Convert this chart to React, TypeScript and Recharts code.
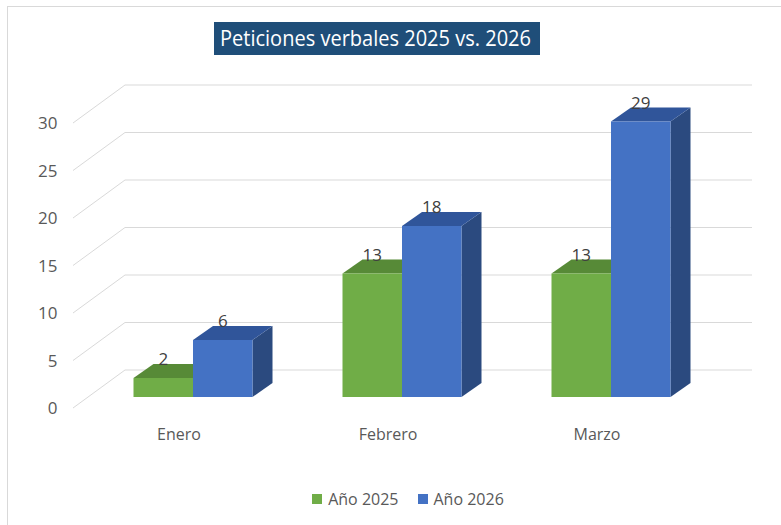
import { BarChart, Bar, XAxis, YAxis, CartesianGrid, Legend, LabelList } from "recharts";

const months = ["Enero", "Febrero", "Marzo"];
const year2025 = [2, 13, 13];
const year2026 = [6, 18, 29];
const yTicks = [0, 5, 10, 15, 20, 25, 30];

const data = months.map((m, i) => ({ month: m, y2025: year2025[i], y2026: year2026[i] }));

const FONT = "'Open Sans', 'Liberation Sans', sans-serif";
const GRID = "#d9d9d9";
const DEPTH_X = 20;
const DEPTH_Y = 14;

// 3d box: front face, top and right side
const box3d = (top: string, side: string) => (props: any) => {
	const { x, y, width, height, fill } = props;
	if (!width || height == null) return <g />;
	const r = x + width;
	const b = y + height;
	return (
		<g>
			<polygon points={`${r},${y} ${r + DEPTH_X},${y - DEPTH_Y} ${r + DEPTH_X},${b - DEPTH_Y} ${r},${b}`} fill={side} />
			<polygon points={`${x},${y} ${x + DEPTH_X},${y - DEPTH_Y} ${r + DEPTH_X},${y - DEPTH_Y} ${r},${y}`} fill={top} />
			<rect x={x} y={y} width={width} height={height} fill={fill} />
		</g>
	);
};

// back wall line + floor diagonal
const gridLine = (p: any) => {
	const { x1, y1, x2, index } = p;
	return (
		<polyline
			key={`grid-${index}`}
			points={`${x1 - 15.5},${y1 + 11} ${x1 + 36.5},${y1 - 27} ${x2 + 36.5},${y1 - 27}`}
			fill="none"
			stroke={GRID}
			strokeWidth={1}
		/>
	);
};

const YTick = ({ x, y, payload }: any) => (
	<text x={x - 31} y={y + 11} dy={6} textAnchor="end" fill="#595959" fontSize={17} fontFamily={FONT}>
		{payload.value}
	</text>
);

const XTick = ({ x, y, payload }: any) => (
	<text x={x - 14} y={y + 43} textAnchor="middle" fill="#595959" fontSize={16} fontFamily={FONT}>
		{payload.value}
	</text>
);

const ValueLabel = ({ x, y, width, value }: any) => (
	<text x={x + width / 2} y={y - 13} textAnchor="middle" fill="#404040" fontSize={17} fontFamily={FONT}>
		{value}
	</text>
);

const renderLegend = ({ payload }: any) => (
	<div
		style={{
			display: "flex",
			justifyContent: "center",
			columnGap: 19,
			paddingLeft: 35,
			fontFamily: FONT,
			fontSize: 16,
			color: "#595959",
			lineHeight: "22px",
		}}
	>
		{(payload || []).map((e: any) => (
			<span key={e.value} style={{ display: "flex", alignItems: "center" }}>
				<span style={{ width: 10, height: 10, background: e.color, marginRight: 6 }} />
				{e.value}
			</span>
		))}
	</div>
);

const App = () => {
	return (
		<div style={{ position: "absolute", left: 0, top: 0, width: 781, height: 525, background: "#fff", overflow: "hidden" }}>
			<div
				style={{
					position: "absolute",
					left: 7,
					top: 6,
					right: -2,
					bottom: -2,
					borderLeft: `1px solid ${GRID}`,
					borderTop: `1px solid ${GRID}`,
				}}
			/>
			<svg width={781} height={70} style={{ position: "absolute", left: 0, top: 0, zIndex: 2 }}>
				<rect x={214} y={22} width={326} height={33} fill="#1f4e79" />
				<text
					x={220}
					y={46}
					fill="#ffffff"
					fontSize={21}
					fontFamily={FONT}
					textLength={311}
					lengthAdjust="spacingAndGlyphs"
				>
					Peticiones verbales 2025 vs. 2026
				</text>
			</svg>
			<div style={{ position: "absolute", left: 0, top: 0 }}>
				<BarChart
					width={781}
					height={525}
					data={data}
					margin={{ top: 112, right: 65.5, bottom: 98, left: 28.5 }}
					barGap={0}
					barSize={59.5}
				>
					<CartesianGrid vertical={false} horizontal={gridLine} />
					<XAxis dataKey="month" axisLine={false} tickLine={false} tickSize={0} tickMargin={0} height={30} tick={<XTick />} />
					<YAxis
						domain={[0, 30]}
						ticks={yTicks}
						axisLine={false}
						tickLine={false}
						tickSize={0}
						tickMargin={0}
						width={60}
						tick={<YTick />}
					/>
					<Legend
						layout="horizontal"
						verticalAlign="middle"
						align="center"
						content={renderLegend}
						wrapperStyle={{ top: 488, left: 0, width: 781 }}
					/>
					<Bar dataKey="y2025" name="Año 2025" fill="#70ad47" shape={box3d("#578a37", "#4f7d31")} isAnimationActive={false}>
						<LabelList dataKey="y2025" content={<ValueLabel />} />
					</Bar>
					<Bar dataKey="y2026" name="Año 2026" fill="#4472c4" shape={box3d("#30559a", "#2b4a7f")} isAnimationActive={false}>
						<LabelList dataKey="y2026" content={<ValueLabel />} />
					</Bar>
				</BarChart>
			</div>
		</div>
	);
};

export default App;
